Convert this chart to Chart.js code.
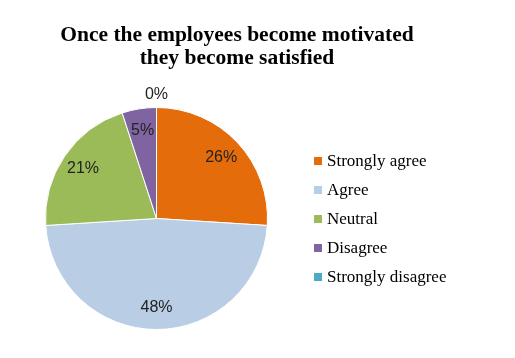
<!DOCTYPE html>
<html>
<head>
<meta charset="utf-8">
<script src="https://cdn.jsdelivr.net/npm/chart.js@4"></script>
<style>
  body { margin: 0; background: #fff; }
  #wrap { width: 515px; height: 358px; }
</style>
</head>
<body>
<div id="wrap"><canvas id="myChart"></canvas></div>
<script>
const title = ['Once the employees become motivated', 'they become satisfied'];
const labels = ["Strongly agree", "Agree", "Neutral", "Disagree", "Strongly disagree"];
const percents = [26, 48, 21, 5, 0];
const colors = ["#E46C0A", "#B9CDE5", "#9BBB59", "#8064A2", "#4BACC6"];

const serif = '"Liberation Serif", "Times New Roman", serif';

// title centred over the whole canvas, not just the pie area
const topTitle = {
    id: 'topTitle',
    afterDraw(chart) {
        const ctx = chart.ctx;
        ctx.save();
        ctx.font = 'bold 21.5px ' + serif;
        ctx.fillStyle = '#000';
        ctx.textAlign = 'center';
        ctx.textBaseline = 'middle';
        title.forEach((line, i) => ctx.fillText(line, 237, 35 + i * 23));
        ctx.restore();
    }
};

// percent labels on the slices (0 goes outside)
const sliceLabels = {
    id: 'sliceLabels',
    afterDatasetsDraw(chart) {
        const ctx = chart.ctx;
        const meta = chart.getDatasetMeta(0);
        ctx.save();
        ctx.font = '16px "Liberation Sans", Arial, sans-serif';
        ctx.fillStyle = '#222';
        ctx.textAlign = 'center';
        ctx.textBaseline = 'middle';
        meta.data.forEach((arc, i) => {
            const p = arc.getProps(['x', 'y', 'startAngle', 'endAngle', 'outerRadius'], true);
            const mid = (p.startAngle + p.endAngle) / 2;
            const r = percents[i] === 0 ? p.outerRadius + 13 : p.outerRadius * 0.8;
            ctx.fillText(percents[i] + '%', p.x + Math.cos(mid) * r, p.y + Math.sin(mid) * r);
        });
        ctx.restore();
    }
};

// legend on the right, drawn from the chart data
const sideLegend = {
    id: 'sideLegend',
    afterDraw(chart) {
        const ctx = chart.ctx;
        const ds = chart.data.datasets[0];
        ctx.save();
        ctx.font = '17px ' + serif;
        ctx.textBaseline = 'middle';
        chart.data.labels.forEach((lab, i) => {
            const y = 161 + i * 29;
            ctx.fillStyle = ds.backgroundColor[i];
            ctx.fillRect(314, y - 4, 8, 8);
            ctx.fillStyle = '#000';
            ctx.fillText(lab, 327, y + 1);
        });
        ctx.restore();
    }
};

new Chart(document.getElementById('myChart').getContext('2d'), {
    type: 'pie',
    data: {
        labels: labels,
        datasets: [{
            data: percents,
            backgroundColor: colors,
            borderColor: '#fff',
            borderWidth: 1
        }]
    },
    options: {
        responsive: true,
        maintainAspectRatio: false,
        animation: false,
        layout: { padding: { left: 45, right: 247, top: 107, bottom: 28 } },
        plugins: {
            legend: { display: false },
            tooltip: { enabled: false },
            title: { display: false }
        }
    },
    plugins: [sliceLabels, sideLegend, topTitle]
});
</script>
</body>
</html>
